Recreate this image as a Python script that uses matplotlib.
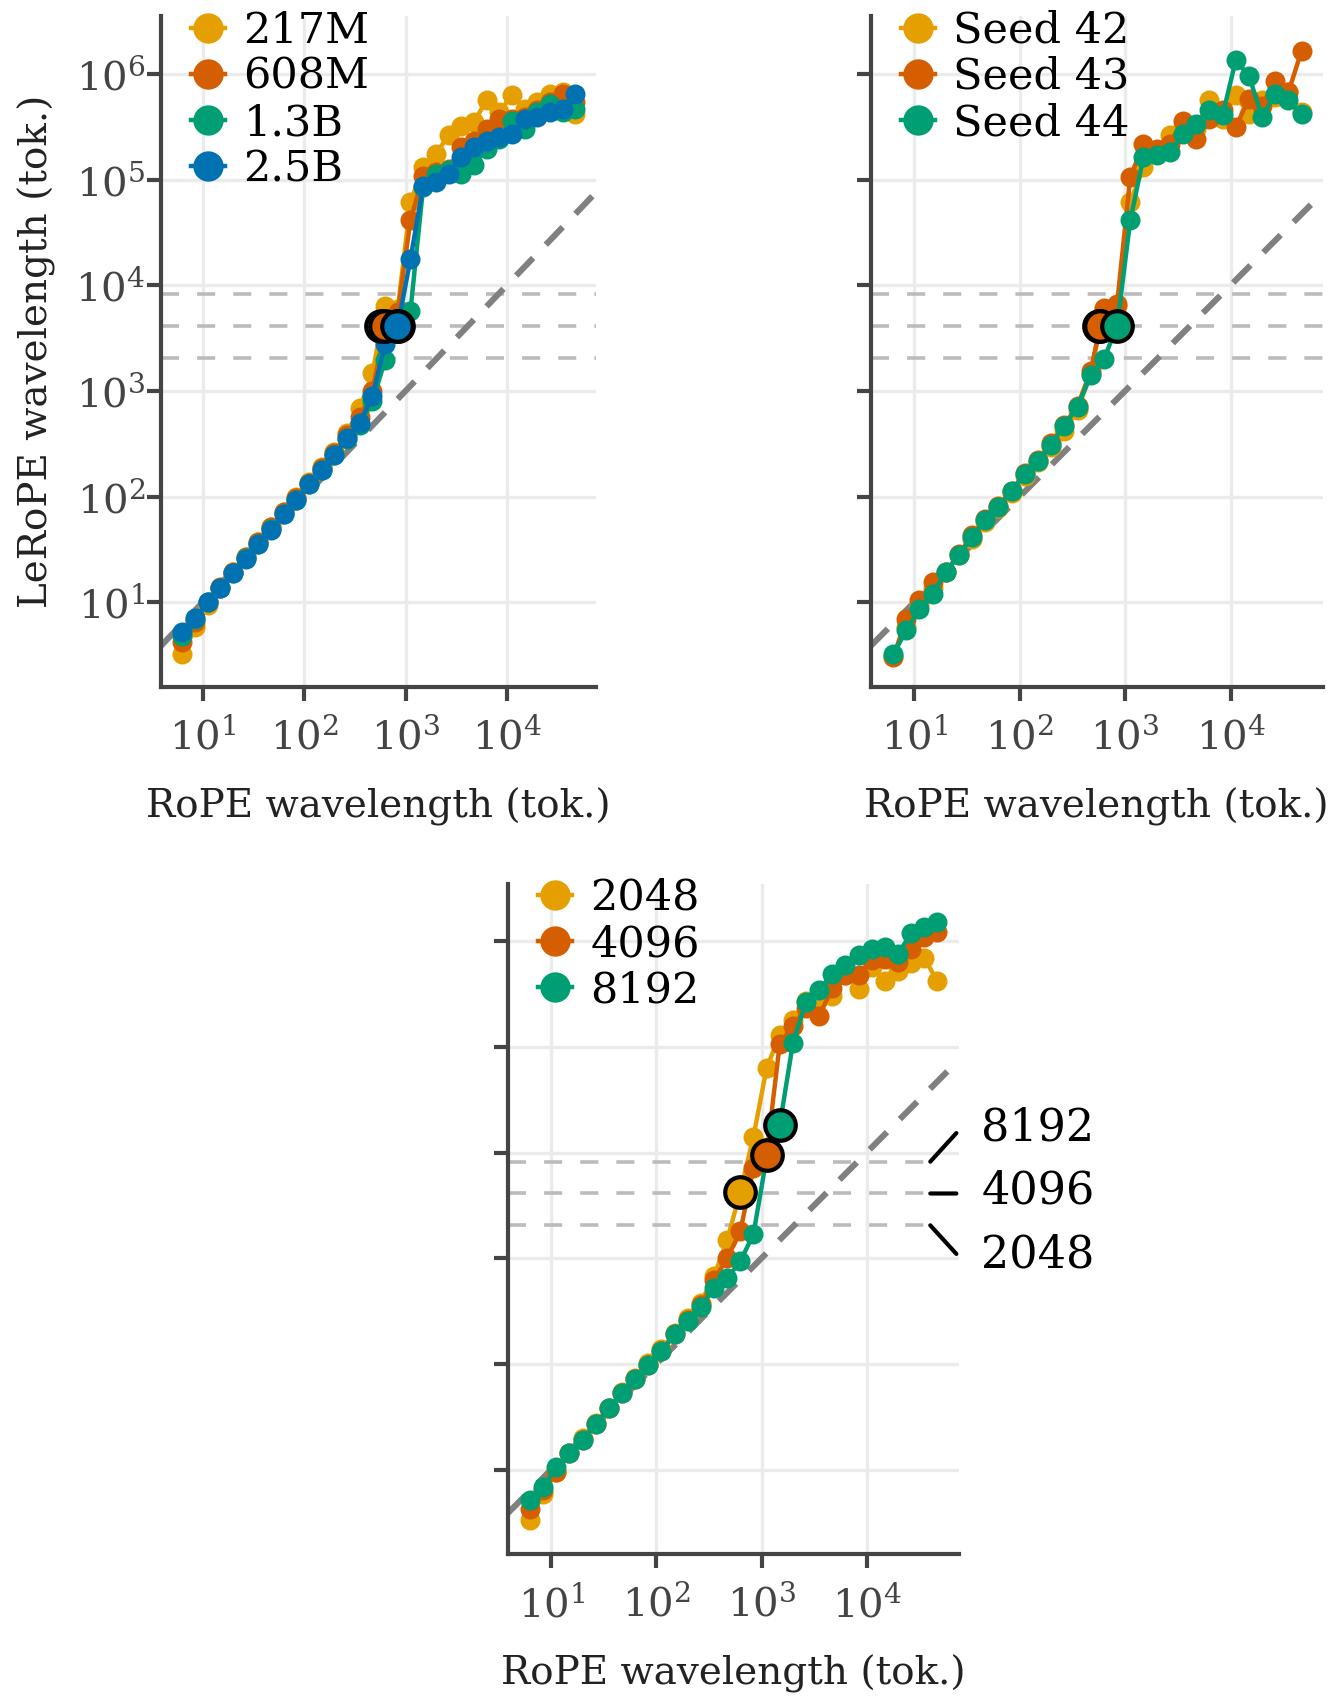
import matplotlib
matplotlib.use("Agg")
import matplotlib.pyplot as plt
from matplotlib.ticker import NullLocator

plt.rcParams["font.family"] = "DejaVu Serif"
plt.rcParams["mathtext.fontset"] = "dejavuserif"

# ==========================================
# DATA
# ==========================================

# RoPE wavelengths (tok.), one per frequency pair
rope_wl = [6.28, 8.38, 11.17, 14.9, 19.87, 26.5, 35.33, 47.12,
           62.83, 83.79, 111.7, 149.0, 198.7, 265.0, 353.3, 471.2,
           628.3, 837.9, 1117, 1490, 1987, 2650, 3533, 4712,
           6283, 8379, 11173, 14900, 19869, 26496, 35333, 47117]

# --- model size (top left)
size_labels = ["217M", "608M", "1.3B", "2.5B"]
lerope_217m = [3.2, 5.8, 9.5, 13.5, 19.5, 26.8, 37, 52, 72, 98, 138, 190, 265, 400, 685, 1480,
               6300, 6000, 61000, 131000, 175000, 261000, 324000, 349000,
               560000, 434000, 624000, 467000, 540000, 647000, 670000, 418000]
lerope_608m = [4.2, 6.5, 10, 14, 19.5, 26.5, 37, 51, 71, 96, 135, 185, 260, 380, 560, 1000,
               4000, 5600, 41000, 109000, 117000, 126000, 202000, 234000,
               302000, 375000, 372000, 389000, 450000, 537000, 646000, 537000]
lerope_1p3b = [4.8, 6.9, 10, 13.7, 18.9, 26, 35.5, 49, 68, 92, 130, 177, 245, 350, 480, 800,
               1950, 3700, 5750, 84500, 113000, 122000, 113000, 136000,
               195000, 243000, 361000, 302000, 434000, 520000, 434000, 467000]
lerope_2p5b = [5.2, 7.1, 10.0, 13.7, 18.9, 25.9, 35.4, 48, 68, 92, 130, 177, 249, 358, 500, 897,
               2760, 4100, 17700, 87700, 94400, 113000, 163000, 202000,
               234000, 251000, 270000, 375000, 389000, 434000, 467000, 647000]
size_cross_x = [568, 631, 850, 828]
size_cross_y = [4096, 4096, 4096, 4096]

# --- seeds (top right)
seed_labels = ["Seed 42", "Seed 43", "Seed 44"]
lerope_seed42 = [3.1, 5.8, 9.5, 13.5, 19.3, 27.8, 40, 58, 78, 108, 158, 210, 295, 420, 660, 1450,
                 6000, 6300, 61000, 131000, 186000, 261000, 313000, 302000,
                 560000, 375000, 624000, 418000, 560000, 603000, 670000, 437000]
lerope_seed43 = [3.0, 6.9, 10.4, 15.5, 19.5, 28.5, 43, 61, 82, 114, 167, 220, 320, 480, 720, 1550,
                 6070, 6650, 105000, 218000, 195000, 218000, 361000, 243000,
                 375000, 450000, 313000, 579000, 501000, 865000, 670000, 1660000]
lerope_seed44 = [3.2, 5.4, 8.6, 12.0, 19.3, 27.8, 41.6, 60, 80, 112, 164, 215, 310, 470, 708, 1400,
                 2000, 4100, 41000, 163000, 169000, 182000, 270000, 337000,
                 450000, 404000, 1340000, 964000, 389000, 647000, 560000, 418000]
seed_cross_x = [562, 578, 834]
seed_cross_y = [4096, 4096, 4096]

# --- training context length (bottom)
ctx_labels = ["2048", "4096", "8192"]
lerope_ctx2048 = [3.3, 5.9, 9.5, 14.4, 20, 27.5, 38.5, 54, 74, 101, 137, 197, 270, 380, 676, 1480,
                  4250, 14100, 62700, 130000, 180000, 269000, 289000, 301000,
                  479000, 355000, 575000, 417000, 519000, 617000, 692000, 417000]
lerope_ctx4096 = [4.2, 6.4, 9.5, 14.4, 19.2, 27, 38, 53, 72, 98.6, 132, 190, 260, 363, 617, 1000,
                  1790, 7140, 9440, 107000, 158000, 231000, 196000, 361000,
                  479000, 476000, 661000, 685000, 637000, 839000, 1096000, 1225000]
lerope_ctx8192 = [5.2, 6.8, 10.5, 14.4, 19.2, 27, 38, 53, 72, 98.6, 132, 190, 257, 347, 519, 646,
                  933, 1690, 8900, 18150, 108000, 267000, 344000, 494000,
                  593000, 736000, 851000, 883000, 764000, 1183000, 1368000, 1524000]
ctx_cross_x = [628, 1117, 1490]
ctx_cross_y = [4250, 9440, 18150]

context_lines = [2048, 4096, 8192]

# ==========================================
# STYLE
# ==========================================

ORANGE = "#E69F00"
VERMILLION = "#D55E00"
GREEN = "#009E73"
BLUE = "#0072B2"
AXIS_GREY = "#444444"


def style_axes(ax, ylabels=True):
    ax.set_xscale("log")
    ax.set_yscale("log")
    ax.set_xlim(3.85, 75000)
    ax.set_ylim(1.58, 3.5e6)
    ax.set_xticks([1e1, 1e2, 1e3, 1e4])
    ax.set_yticks([1e1, 1e2, 1e3, 1e4, 1e5, 1e6])
    ax.xaxis.set_minor_locator(NullLocator())
    ax.yaxis.set_minor_locator(NullLocator())
    ax.grid(True, color="#ebebeb", lw=1.2, zorder=0)
    ax.set_axisbelow(True)
    for side in ["top", "right"]:
        ax.spines[side].set_visible(False)
    for side in ["left", "bottom"]:
        ax.spines[side].set_color(AXIS_GREY)
        ax.spines[side].set_linewidth(1.5)
    ax.tick_params(direction="out", length=5, width=1.5, color=AXIS_GREY,
                   labelcolor=AXIS_GREY, labelsize=14.5)
    ax.tick_params(axis="x", pad=6)
    ax.tick_params(axis="y", pad=0.5)
    if not ylabels:
        ax.tick_params(labelleft=False)
    ax.set_xlabel("RoPE wavelength (tok.)", fontsize=14, color="#222222", labelpad=11)


def draw_panel(ax, series, labels, colors, cross_x, cross_y, line_span=1.0):
    for v in context_lines:
        ax.axhline(v, xmax=line_span, color="#bbbbbb", lw=1.3, ls=(0, (5, 5)), zorder=1)
    ax.axline((1, 1), (10, 10), color="#808080", lw=2.2, ls=(0, (4, 3)), zorder=1.5)
    for y, lab, c in zip(series, labels, colors):
        ax.plot(rope_wl, y, "-o", color=c, lw=1.6, ms=6.2, label=lab, zorder=3)
    for cx, cy, c in zip(cross_x, cross_y, colors):
        ax.plot([cx], [cy], "o", ms=11, mfc=c, mec="black", mew=1.5, zorder=4)
    ax.legend(loc="upper left", bbox_to_anchor=(0.0, 1.055), frameon=False,
              fontsize=15.5, handlelength=0.8, handletextpad=0.42,
              labelspacing=0.1, markerscale=1.6, borderaxespad=0.3)


# ==========================================
# FIGURE
# ==========================================

fig = plt.figure(figsize=(6.69, 8.52), dpi=200)

ax1 = fig.add_axes([0.1202, 0.5969, 0.3250, 0.3935])
ax2 = fig.add_axes([0.6507, 0.5969, 0.3380, 0.3935])
ax3 = fig.add_axes([0.3794, 0.0879, 0.3371, 0.3935])

style_axes(ax1)
style_axes(ax2, ylabels=False)
style_axes(ax3, ylabels=False)
ax1.set_ylabel("LeRoPE wavelength (tok.)", fontsize=14, color="#222222", labelpad=7)

draw_panel(ax1, [lerope_217m, lerope_608m, lerope_1p3b, lerope_2p5b], size_labels,
           [ORANGE, VERMILLION, GREEN, BLUE], size_cross_x, size_cross_y)
draw_panel(ax2, [lerope_seed42, lerope_seed43, lerope_seed44], seed_labels,
           [ORANGE, VERMILLION, GREEN], seed_cross_x, seed_cross_y)
draw_panel(ax3, [lerope_ctx2048, lerope_ctx4096, lerope_ctx8192], ctx_labels,
           [ORANGE, VERMILLION, GREEN], ctx_cross_x, ctx_cross_y, line_span=0.96)

# labels for the context-length lines on the right of the bottom panel
trans = ax3.get_yaxis_transform()
seg_dy = [10.3, 0, -10.3]
text_dy = [12, 1, -10.5]
for v, sdy, tdy in zip(context_lines[::-1], seg_dy, text_dy):
    ax3.annotate("", xy=(0.937, v), xycoords=trans, xytext=(9.4, sdy),
                 textcoords="offset points", annotation_clip=False,
                 arrowprops=dict(arrowstyle="-", color="black", lw=1.5,
                                 shrinkA=0, shrinkB=0))
    ax3.annotate(str(v), xy=(0.937, v), xycoords=trans, xytext=(18.4, tdy),
                 textcoords="offset points", va="center", ha="left",
                 fontsize=16, color="black", annotation_clip=False)

fig.savefig("out.png", dpi=200)
